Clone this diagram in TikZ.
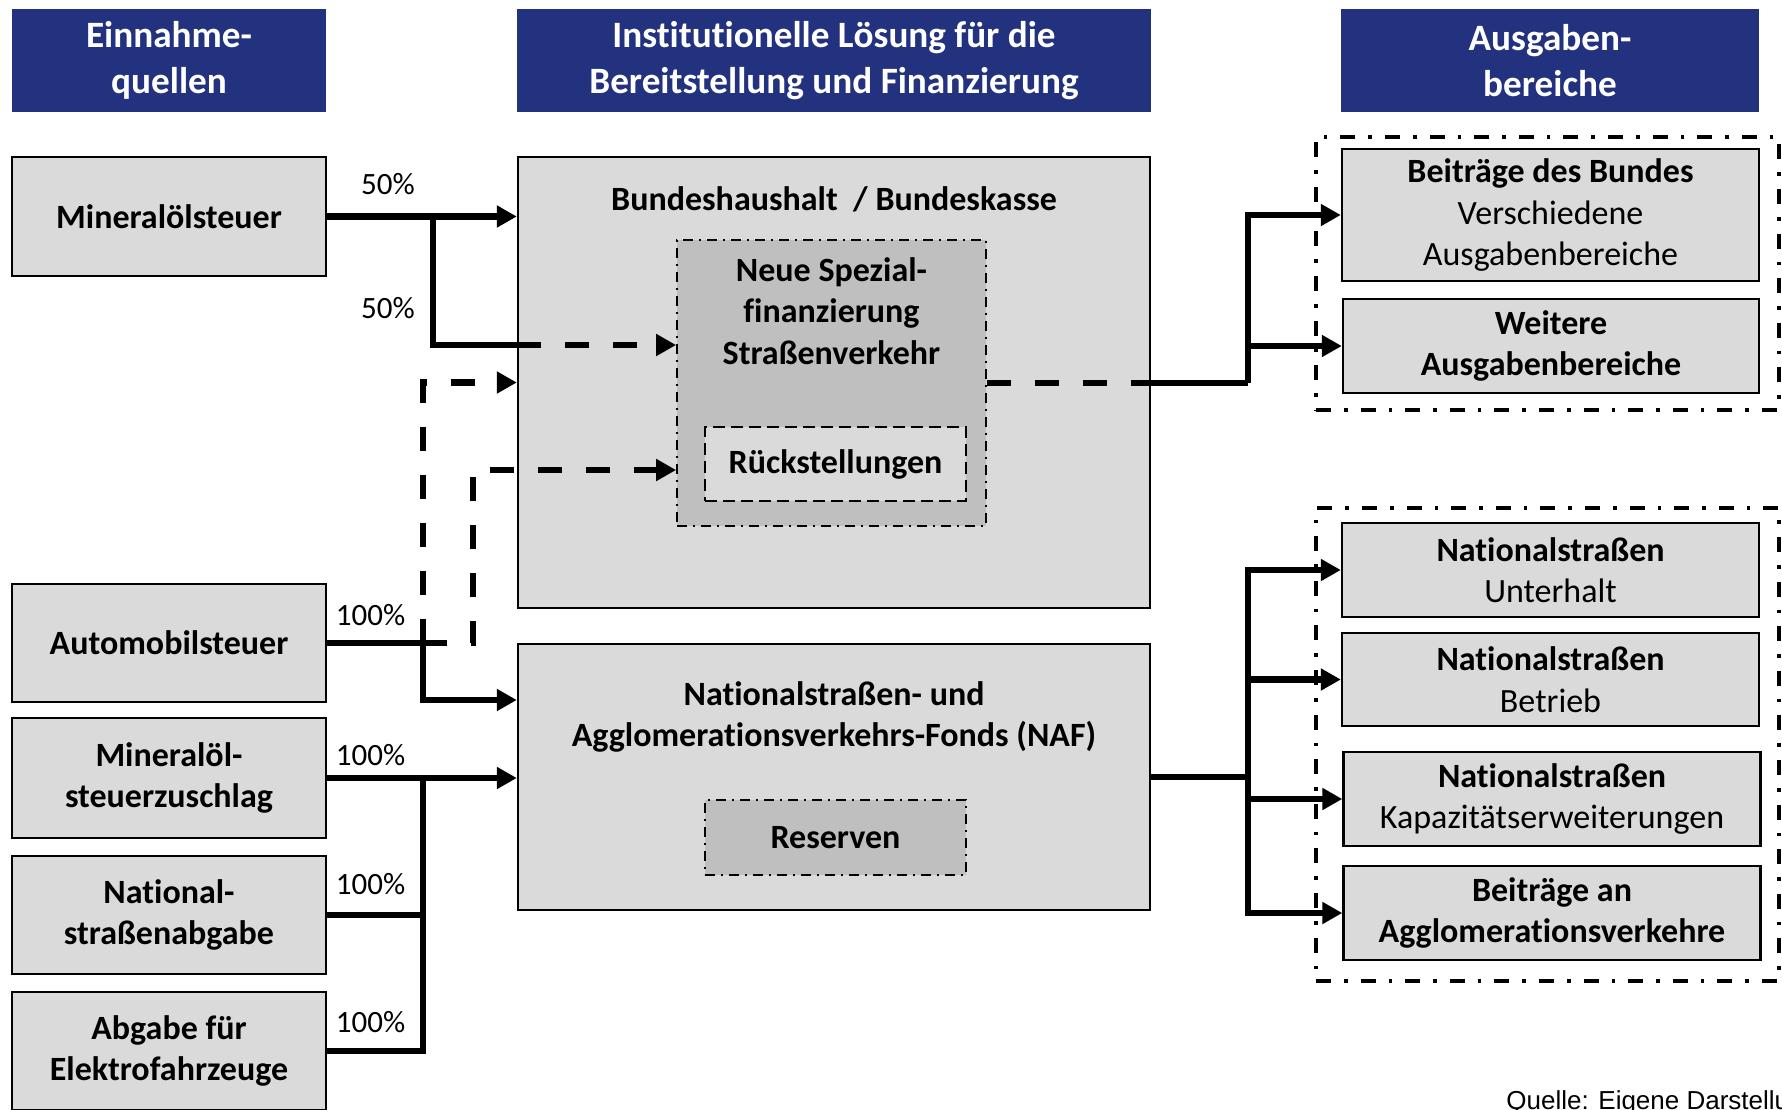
\documentclass[tikz,border=0pt]{standalone}
\usepackage{fontspec}
\setmainfont{Carlito}[Ligatures=NoCommon]
\newfontfamily\quellefont{Liberation Sans}
\usetikzlibrary{arrows.meta}
\definecolor{hdrblue}{RGB}{34,50,126}
\definecolor{boxgray}{RGB}{218,218,218}
\definecolor{midgray}{RGB}{191,191,191}
\begin{document}
\begin{tikzpicture}[x=0.5pt,y=-0.5pt,
  hdr/.style={fill=hdrblue,text=white,font=\fontsize{18.6}{22.7}\selectfont\bfseries,align=center,inner sep=0pt},
  box/.style={draw=black,line width=1.2pt,fill=boxgray,font=\fontsize{17}{20.75}\selectfont\bfseries,align=center,inner sep=0pt},
  txt/.style={font=\fontsize{17}{20.75}\selectfont\bfseries,align=center,inner sep=0pt},
  pct/.style={font=\fontsize{15.5}{18}\selectfont,inner sep=0pt},
  conn/.style={line width=3.1pt},
  arr/.style={-{Triangle[length=10pt,width=10.5pt]}},
  dashline/.style={line width=3.1pt,dash pattern=on 12pt off 12pt},
  ddbig/.style={draw=black,line width=2pt,dash pattern=on 7.5pt off 6.5pt on 1.8pt off 6.5pt},
  ddsmall/.style={draw=black,line width=0.9pt,dash pattern=on 5pt off 3pt on 1pt off 3pt},
  dsmall/.style={draw=black,line width=1pt,dash pattern=on 6pt off 3pt}
]
\useasboundingbox[fill=white] (0,0) rectangle (1782,1109);

% headers
\node[hdr,minimum width=157pt,minimum height=51.5pt] (h1) at (169,60.5) {Einnahme-\\quellen};
\node[hdr,minimum width=317pt,minimum height=51.5pt] (h2) at (834,60.5) {Institutionelle Lösung für die\\Bereitstellung und Finanzierung};
\node[hdr,minimum width=209pt,minimum height=51.5pt] (h3) at (1550,60.5) {Ausgaben-\\bereiche};

% left sources
\node[box,minimum width=157pt,minimum height=59.5pt] (m1) at (169,216.5) {Mineralölsteuer};
\node[box,minimum width=157pt,minimum height=59pt] (m2) at (169,643) {Automobilsteuer};
\node[box,minimum width=157pt,minimum height=60pt] (m3) at (169,778) {Mineralöl-\\steuerzuschlag};
\node[box,minimum width=157pt,minimum height=59pt] (m4) at (169,915) {National-\\straßenabgabe};
\node[box,minimum width=157pt,minimum height=59pt] (m5) at (169,1051) {Abgabe für\\Elektrofahrzeuge};

% middle
\node[box,minimum width=316pt,minimum height=225.5pt] (bh) at (834,382.5) {};
\node[txt] (bht) at (834,199) {Bundeshaushalt\ \ / Bundeskasse};
\node[ddsmall,fill=midgray,minimum width=154.5pt,minimum height=143pt] (ns) at (831.5,383) {};
\node[txt] (nst) at (831.5,311) {Neue Spezial-\\finanzierung\\Straßenverkehr};
\node[dsmall,fill=boxgray,minimum width=130.5pt,minimum height=37pt,txt] (rs) at (835.5,464) {Rückstellungen};
\node[box,minimum width=316pt,minimum height=133pt] (naf) at (834,777) {};
\node[txt] (naft) at (834,717) {Nationalstraßen- und\\Agglomerationsverkehrs-Fonds (NAF)};
\node[ddsmall,fill=midgray,minimum width=130.5pt,minimum height=37.5pt,txt] (res) at (835.5,837.5) {Reserven};

% right containers
\node[ddbig,minimum width=231.5pt,minimum height=136.5pt] (uc) at (1547.5,273.5) {};
\node[ddbig,minimum width=231.5pt,minimum height=236.5pt] (lc) at (1547.5,744.5) {};

% right boxes
\node[box,minimum width=208.5pt,minimum height=66pt] (bdb) at (1550.5,215) {Beiträge des Bundes\\{\mdseries Verschiedene}\\{\mdseries Ausgabenbereiche}};
\node[box,minimum width=208pt,minimum height=47pt] (wei) at (1551,346) {Weitere\\Ausgabenbereiche};
\node[box,minimum width=208.5pt,minimum height=47pt] (nsu) at (1550.5,570) {Nationalstraßen\\{\mdseries Unterhalt}};
\node[box,minimum width=208.5pt,minimum height=46.5pt] (nsb) at (1550.5,679.5) {Nationalstraßen\\{\mdseries Betrieb}};
\node[box,minimum width=208.5pt,minimum height=47pt] (nsk) at (1552,799) {Nationalstraßen\\{\mdseries Kapazitätserweiterungen}};
\node[box,minimum width=208.5pt,minimum height=47pt] (baa) at (1552,913) {Beiträge an\\Agglomerationsverkehre};

% percentages
\node[pct] (p1) at (388,184) {50\%};
\node[pct] (p2) at (388,308) {50\%};
\node[pct] (p3) at (370.5,615) {100\%};
\node[pct] (p4) at (370.5,755) {100\%};
\node[pct] (p5) at (370.5,884) {100\%};
\node[pct] (p6) at (370.5,1022) {100\%};

% coordinates
\coordinate (j1) at (433,216.5);
\coordinate (ja) at (433,345);
\coordinate (j2) at (423,643);
\coordinate (j2e) at (445,643);
\coordinate (adn) at (423,700);
\coordinate (k1) at (473,643);
\coordinate (k2) at (473,470);
\coordinate (jb) at (423,778);
\coordinate (r1) at (1248,383);
\coordinate (r2) at (1248,777);

% left connectors
\draw[conn,arr] (m1.east) -- (m1.east -| bh.west);
\draw[conn] (j1) -- (ja) -- (ja -| bh.west);
\draw[dashline,arr] (ja -| bh.west) -- (ja -| ns.west);
\draw[conn] (m2.east) -- (j2e);
\draw[dashline,arr] (j2) -- (j2 |- bh.west) -- (bh.west);
\draw[conn,arr] (j2) -- (adn) -- (adn -| naf.west);
\draw[dashline,arr] (j2) -- (k1) -- (k2) -- (k2 -| ns.west);
\draw[conn,arr] (m3.east) -- (m3.east -| naf.west);
\draw[conn] (m4.east) -- (m4.east -| jb);
\draw[conn] (m5.east) -| (jb);

% right connectors
\draw[dashline] (ns.east) -- (ns.east -| bh.east);
\draw[conn] (ns.east -| bh.east) -- (r1);
\draw[conn,arr] (r1) |- (bdb.west);
\draw[conn,arr] (r1 |- wei.west) -- (wei.west);
\draw[conn] (naf.east) -- (r2);
\draw[conn,arr] (r2) |- (nsu.west);
\draw[conn,arr] (r2) |- (baa.west);
\draw[conn,arr] (r2 |- nsb.west) -- (nsb.west);
\draw[conn,arr] (r2 |- nsk.west) -- (nsk.west);

% source
\node[font=\quellefont\fontsize{13}{16}\selectfont,anchor=base west,inner sep=0pt] (src) at (1506,1109) {Quelle: Eigene Darstellung};
\end{tikzpicture}
\end{document}
